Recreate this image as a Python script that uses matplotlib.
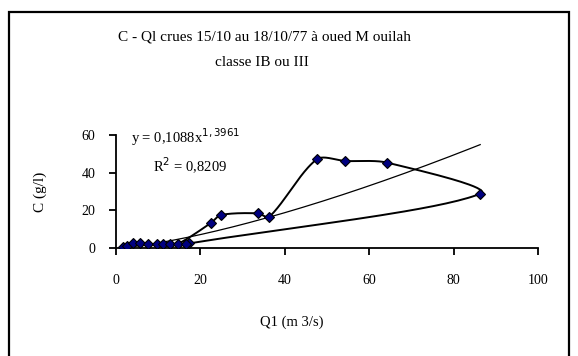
import numpy as np
import matplotlib
matplotlib.use("Agg")
import matplotlib.pyplot as plt
from matplotlib.patches import Rectangle

# Data (Q1 in m3/s, C in g/l), in hydrograph order
q1 = [1.7, 2.7, 4.1, 5.7, 7.7, 9.6, 11.2, 12.8, 14.8,
      22.5, 24.8, 33.6, 36.3, 47.6, 54.3, 64.3, 86.3,
      17.4, 16.7]
conc = [0.3, 1.2, 2.5, 2.5, 2.1, 2.1, 2.1, 2.2, 2.3,
        13.3, 17.5, 18.4, 16.5, 47.1, 46.2, 45.3, 28.8,
        2.4, 2.2]

# power trend line parameters
coef_a = 0.1088
coef_b = 1.3961
r2 = 0.8209

title1 = "C - Ql crues 15/10 au 18/10/77 à oued M ouilah"
title2 = "classe IB ou III"
xlabel = "Q1 (m 3/s)"
ylabel = "C (g/l)"
xticks = [0, 20, 40, 60, 80, 100]
yticks = [0, 20, 40, 60]


def smooth_display(pts, n=40, tension=0.5):
    """length-weighted Bezier smoothing in display coordinates"""
    N = len(pts)
    cin = [None] * N
    cout = [None] * N
    for i in range(N):
        p0 = pts[max(i - 1, 0)]
        p1 = pts[i]
        p2 = pts[min(i + 1, N - 1)]
        d01 = np.linalg.norm(p1 - p0)
        d12 = np.linalg.norm(p2 - p1)
        s = d01 + d12
        if s == 0:
            cin[i] = p1.copy(); cout[i] = p1.copy(); continue
        fa = tension * d01 / s
        fb = tension * d12 / s
        cin[i] = p1 - fa * (p2 - p0)
        cout[i] = p1 + fb * (p2 - p0)
    t = np.linspace(0, 1, n)[:, None]
    out = []
    for i in range(N - 1):
        a, b1, b2, b = pts[i], cout[i], cin[i + 1], pts[i + 1]
        out.append((1 - t) ** 3 * a + 3 * (1 - t) ** 2 * t * b1 +
                   3 * (1 - t) * t ** 2 * b2 + t ** 3 * b)
    return np.vstack(out)


plt.rcParams['font.family'] = ['Liberation Serif', 'DejaVu Serif']

fig = plt.figure(figsize=(5.78, 3.56), dpi=100)
ax = fig.add_axes([116 / 578, 1 - 248 / 356, (538 - 116) / 578, (248 - 135) / 356])
ax.set_xlim(0, 100)
ax.set_ylim(0, 60)

disp = ax.transData.transform(np.column_stack([q1, conc]))
curve = ax.transData.inverted().transform(smooth_display(disp, tension=0.3))
ax.plot(curve[:, 0], curve[:, 1], color='black', lw=1.4, zorder=3,
        solid_joinstyle='round')
ax.plot(q1, conc, linestyle='none', marker='D', markersize=5.5,
        markerfacecolor='#000080', markeredgecolor='black', markeredgewidth=0.8,
        zorder=4)

xt = np.linspace(min(q1), max(q1), 200)
ax.plot(xt, coef_a * xt ** coef_b, color='black', lw=0.9, zorder=2)

ax.set_xticks(xticks)
ax.set_yticks(yticks)
ax.set_xticklabels([str(v) for v in xticks])
ax.set_yticklabels([str(v) for v in yticks])
for s in ['top', 'right']:
    ax.spines[s].set_visible(False)
for s in ['left', 'bottom']:
    ax.spines[s].set_linewidth(1.3)
ax.tick_params(direction='out', length=5, width=1.3, labelsize=10, pad=10)
ax.tick_params(axis='x', pad=14)
ax.patch.set_alpha(0)

ax.text(0.035, 0.985, "y = 0,1088x$^{1,3961}$", transform=ax.transAxes,
        fontsize=10.5, va='center', ha='left')
ax.text(0.088, 0.73, "R$^2$ = 0,8209", transform=ax.transAxes,
        fontsize=10.5, va='center', ha='left')

fig.text(264 / 578, 1 - 37 / 356, title1, ha='center', va='center', fontsize=11)
fig.text(262 / 578, 1 - 62 / 356, title2, ha='center', va='center', fontsize=11)
fig.text(292 / 578, 1 - 322 / 356, xlabel, ha='center', va='center', fontsize=10.5)
fig.text(40 / 578, 1 - 192 / 356, ylabel, ha='center', va='center', fontsize=11,
         rotation=90)

fig.patches.append(Rectangle((9 / 578, -0.02), 560 / 578, (356 - 12) / 356 + 0.02,
                             transform=fig.transFigure, fill=False,
                             edgecolor='black', lw=1.6))

fig.savefig("out.png", dpi=100)
